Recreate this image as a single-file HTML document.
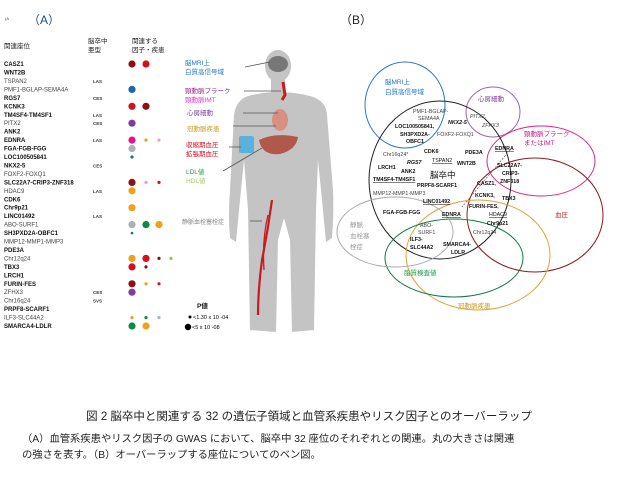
<!DOCTYPE html>
<html><head><meta charset="utf-8"><style>
html,body{margin:0;padding:0;background:#fff;}
body{width:618px;height:480px;overflow:hidden;position:relative;font-family:"Liberation Sans","Noto Sans CJK JP",sans-serif;}
svg{position:absolute;left:0;top:0;}
.cap{position:absolute;font-family:"Liberation Sans","Noto Sans CJK JP",sans-serif;color:#222;}
</style></head><body>
<svg width="618" height="400" viewBox="0 0 618 400" font-family="Liberation Sans, Noto Sans CJK JP, sans-serif">
<text x="5" y="20" font-size="4" fill="#444">(A</text>
<text x="28" y="24" font-size="12" fill="#1a4f8f">（A）</text>
<text x="340" y="24" font-size="12" fill="#222">（B）</text>
<g font-size="6.5" fill="#222">
<text x="4" y="48">関連座位</text>
<text x="88" y="43">脳卒中</text><text x="88" y="52">亜型</text>
<text x="132" y="43">関連する</text><text x="132" y="52">因子・疾患</text>
</g>
<g font-size="6" fill="#111">
<text x="4" y="66" font-weight="bold">CASZ1</text>
<text x="4" y="74.5" font-weight="bold">WNT2B</text>
<text x="4" y="83" fill="#444">TSPAN2</text>
<text x="4" y="91.4" fill="#444">PMF1-BGLAP-SEMA4A</text>
<text x="4" y="99.9" font-weight="bold">RGS7</text>
<text x="4" y="108.3" font-weight="bold">KCNK3</text>
<text x="4" y="116.8" font-weight="bold">TM4SF4-TM4SF1</text>
<text x="4" y="125.2" fill="#444">PITX2</text>
<text x="4" y="133.7" font-weight="bold">ANK2</text>
<text x="4" y="142.1" font-weight="bold">EDNRA</text>
<text x="4" y="150.6" font-weight="bold">FGA-FGB-FGG</text>
<text x="4" y="159" font-weight="bold">LOC100505841</text>
<text x="4" y="167.5" font-weight="bold">NKX2-5</text>
<text x="4" y="175.9" fill="#444">FOXF2-FOXQ1</text>
<text x="4" y="184.4" font-weight="bold">SLC22A7-CRIP3-ZNF318</text>
<text x="4" y="192.8" fill="#444">HDAC9</text>
<text x="4" y="201.3" font-weight="bold">CDK6</text>
<text x="4" y="209.7" font-weight="bold">Chr9p21</text>
<text x="4" y="218.2" font-weight="bold">LINC01492</text>
<text x="4" y="226.6" fill="#444">ABO-SURF1</text>
<text x="4" y="235.1" font-weight="bold">SH3PXD2A-OBFC1</text>
<text x="4" y="243.5" fill="#444">MMP12-MMP1-MMP3</text>
<text x="4" y="252" font-weight="bold">PDE3A</text>
<text x="4" y="260.4" fill="#444">Chr12q24</text>
<text x="4" y="268.9" font-weight="bold">TBX3</text>
<text x="4" y="277.3" font-weight="bold">LRCH1</text>
<text x="4" y="285.8" font-weight="bold">FURIN-FES</text>
<text x="4" y="294.2" fill="#444">ZFHX3</text>
<text x="4" y="302.7" fill="#444">Chr16q24</text>
<text x="4" y="311.1" font-weight="bold">PRPF8-SCARF1</text>
<text x="4" y="319.6" fill="#444">ILF3-SLC44A2</text>
<text x="4" y="328" font-weight="bold">SMARCA4-LDLR</text>
</g>
<g font-size="4.5" fill="#333" font-weight="bold">
<text x="93" y="83">LAS</text><text x="93" y="99.9">CES</text><text x="93" y="116.8">LAS</text>
<text x="93" y="125.2">CES</text><text x="93" y="142.1">LAS</text><text x="93" y="167.5">CES</text>
<text x="93" y="192.8">LAS</text><text x="93" y="218.2">LAS</text><text x="93" y="294.2">CES</text>
<text x="93" y="302.7">SVS</text>
</g>
<g>
<circle cx="132" cy="64" r="3.6" fill="#8e0f14"/><circle cx="146" cy="64" r="3.6" fill="#d3101c"/>
<circle cx="132" cy="89.4" r="3.6" fill="#1a68b2"/>
<circle cx="132" cy="106.3" r="3.6" fill="#d3101c"/><circle cx="146" cy="106.3" r="3.6" fill="#8e0f14"/>
<circle cx="132" cy="123.2" r="3.6" fill="#7d3f9c"/>
<circle cx="132" cy="140.1" r="3.6" fill="#e2158a"/><circle cx="146" cy="140.1" r="1.6" fill="#f0a01a"/><circle cx="159" cy="140.1" r="1.6" fill="#eea0bd"/>
<circle cx="132" cy="148.6" r="3.6" fill="#b0b0b0"/>
<circle cx="132" cy="157" r="1.6" fill="#1a68b2"/>
<circle cx="132" cy="182.4" r="3.6" fill="#8e0f14"/><circle cx="146" cy="182.4" r="1.6" fill="#eea0bd"/><circle cx="159" cy="182.4" r="1.6" fill="#d3101c"/>
<circle cx="132" cy="190.8" r="3.6" fill="#f0a01a"/>
<circle cx="132" cy="207.7" r="3.6" fill="#f0a01a"/>
<circle cx="132" cy="224.6" r="3.6" fill="#b0b0b0"/><circle cx="146" cy="224.6" r="3.6" fill="#0e8a47"/><circle cx="159" cy="224.6" r="3.6" fill="#f0a01a"/>
<circle cx="132" cy="233.1" r="1.3" fill="#1a68b2"/>
<circle cx="132" cy="258.4" r="3.6" fill="#f0a01a"/><circle cx="146" cy="258.4" r="3.6" fill="#d3101c"/><circle cx="159" cy="258.4" r="1.6" fill="#8e0f14"/><circle cx="171" cy="258.4" r="1.6" fill="#9bc63a"/>
<circle cx="132" cy="266.9" r="3.6" fill="#d3101c"/><circle cx="146" cy="266.9" r="1.6" fill="#8e0f14"/>
<circle cx="132" cy="283.8" r="3.6" fill="#8e0f14"/><circle cx="146" cy="283.8" r="1.6" fill="#f0a01a"/><circle cx="159" cy="283.8" r="1.6" fill="#d3101c"/>
<circle cx="132" cy="292.2" r="3.6" fill="#7d3f9c"/>
<circle cx="132" cy="317.6" r="1.6" fill="#f0a01a"/><circle cx="146" cy="317.6" r="1.6" fill="#0e8a47"/><circle cx="159" cy="317.6" r="1.6" fill="#b0b0b0"/>
<circle cx="132" cy="326" r="3.6" fill="#0e8a47"/><circle cx="146" cy="326" r="3.6" fill="#f0a01a"/>
</g>
<!-- body -->
<g fill="#c4c4c4">
<ellipse cx="278" cy="66" rx="13" ry="16"/>
<rect x="271" y="78" width="14" height="16"/>
<path d="M248 96 Q278 88 310 96 Q326 100 327 115 L333 190 Q334 215 332 238 L326 242 L322 200 L318 160 L316 210 L314 330 L292 332 L290 240 L284 218 L278 240 L276 332 L250 330 L248 210 L244 160 L240 200 L236 242 L230 238 Q228 215 230 190 L234 115 Q236 100 248 96 Z"/>
</g>
<ellipse cx="278" cy="64" rx="10" ry="8" fill="#777"/>
<path d="M283 82 L285 95 L282 100" stroke="#d01a1a" stroke-width="3" fill="none"/>
<ellipse cx="280" cy="120" rx="8" ry="11" fill="#d89080"/>
<path d="M259 140 Q275 132 298 137 Q296 150 280 154 Q262 156 259 140 Z" fill="#b0584a"/>
<rect x="239" y="136" width="15" height="17" rx="2" fill="#5bb0dc"/>
<path d="M272 200 Q268 230 262 260 Q258 290 258 315" stroke="#c81a20" stroke-width="2.2" fill="none"/>
<path d="M268 215 Q262 240 264 270" stroke="#c81a20" stroke-width="1.3" fill="none"/>
<g stroke="#555" stroke-width="0.8">
<line x1="245" y1="67" x2="270" y2="62"/><line x1="244" y1="91" x2="281" y2="91"/>
<line x1="243" y1="113" x2="278" y2="113"/><line x1="233" y1="126" x2="276" y2="126"/>
<line x1="229" y1="147" x2="241" y2="147"/><line x1="223" y1="171" x2="262" y2="148"/>
<line x1="250" y1="221" x2="262" y2="221"/>
</g>
<g font-size="6.5">
<text x="185" y="65" fill="#1f76c2">脳MRI上</text><text x="185" y="74" fill="#1f76c2">白質高信号域</text>
<text x="185" y="93" fill="#9a2a8a">頸動脈プラーク</text><text x="185" y="102" fill="#e33bd0">頸動脈IMT</text>
<text x="187" y="115" fill="#7d3f9c">心房細動</text>
<text x="187" y="131" fill="#c89c22">冠動脈疾患</text>
<text x="186" y="147" fill="#d3101c">収縮期血圧</text><text x="186" y="156" fill="#d3101c">拡張期血圧</text>
<text x="186" y="174" fill="#19a050">LDL値</text><text x="186" y="183" fill="#9bd060">HDL値</text>
<text x="182" y="224" fill="#888" font-size="6">静脈血栓塞栓症</text>
<text x="197" y="308" fill="#111" font-weight="bold">P値</text>
</g>
<circle cx="190" cy="317" r="1.5" fill="#000"/><text x="193" y="319" font-size="5.5">&lt;1.30 x 10 -04</text>
<circle cx="188" cy="327" r="3.2" fill="#000"/><text x="192" y="329" font-size="5.5">&lt;5 x 10 -08</text>
<!-- Venn -->
<g fill="none" stroke-width="1">
<ellipse cx="405" cy="105" rx="40" ry="43" stroke="#2b78c0"/>
<ellipse cx="493" cy="112" rx="27" ry="25" stroke="#9a65b5"/>
<ellipse cx="541" cy="161" rx="54" ry="35" stroke="#e0287e"/>
<ellipse cx="440" cy="180" rx="71" ry="79" stroke="#222"/>
<ellipse cx="535" cy="215" rx="68" ry="57" stroke="#8e1a22"/>
<ellipse cx="478" cy="255" rx="72" ry="55" stroke="#e5a030"/>
<ellipse cx="454" cy="258" rx="69" ry="39" stroke="#0e7a45"/>
<ellipse cx="395" cy="232" rx="58" ry="35" stroke="#aaa"/>
<line x1="510" y1="150" x2="462" y2="207" stroke="#555" stroke-dasharray="2,1.5" stroke-width="0.7"/>
</g>
<g font-size="6.5">
<text x="385" y="84" fill="#1f76c2">脳MRI上</text><text x="385" y="94" fill="#1f76c2">白質高信号域</text>
<text x="478" y="101" fill="#7d3f9c">心房細動</text>
<text x="524" y="136" fill="#c0208a">頸動脈プラーク</text><text x="524" y="145" fill="#c0208a">またはIMT</text>
<text x="555" y="217" fill="#c81a20">血圧</text>
<text x="404" y="275" fill="#19a050">脂質検査値</text>
<text x="458" y="308" fill="#c89c22">冠動脈疾患</text>
<text x="350" y="227" fill="#999">静脈</text><text x="350" y="238" fill="#999">血栓塞</text><text x="350" y="249" fill="#999">栓症</text>
<text x="430" y="178" font-size="8.5" fill="#111">脳卒中</text>
</g>
<g font-size="5.3" fill="#111">
<text x="413" y="113" fill="#444">PMF1-BGLAP-</text><text x="418" y="120" fill="#444">SEMA4A</text>
<text x="395" y="128" font-weight="bold">LOC100505841,</text>
<text x="400" y="136" font-weight="bold">SH3PXD2A-</text><text x="406" y="143" font-weight="bold">OBFC1</text>
<text x="448" y="124" font-weight="bold" font-style="italic">NKX2-5</text>
<text x="437" y="136" fill="#444">FOXF2-FOXQ1</text>
<text x="470" y="118" fill="#444" font-style="italic">PITX2,</text><text x="482" y="127" fill="#444" font-style="italic">ZFHX3</text>
<text x="495" y="150" font-weight="bold" text-decoration="underline">EDNRA</text>
<text x="383" y="156" fill="#444">Chr16q24*</text>
<text x="424" y="153" font-weight="bold">CDK6</text>
<text x="432" y="162" text-decoration="underline">TSPAN2</text>
<text x="465" y="154" font-weight="bold">PDE3A</text>
<text x="457" y="165" font-weight="bold">WNT2B</text>
<text x="407" y="164" font-weight="bold" font-style="italic">RGS7</text>
<text x="378" y="169" font-weight="bold">LRCH1</text>
<text x="401" y="173" font-weight="bold">ANK2</text>
<text x="373" y="181" font-weight="bold" text-decoration="underline">TM4SF4-TM4SF1</text>
<text x="497" y="167" font-weight="bold">SLC22A7-</text><text x="502" y="175" font-weight="bold">CRIP3-</text><text x="500" y="183" font-weight="bold">ZNF318</text>
<text x="417" y="187" font-weight="bold">PRPF8-SCARF1</text>
<text x="477" y="185" font-weight="bold">CASZ1,</text>
<text x="373" y="195" fill="#444">MMP12-MMP1-MMP3</text>
<text x="423" y="203" font-weight="bold" text-decoration="underline">LINC01492</text>
<text x="475" y="197" font-weight="bold">KCNK3,</text>
<text x="502" y="200" font-weight="bold">TBX3</text>
<text x="469" y="208" font-weight="bold">FURIN-FES,</text>
<text x="489" y="216" text-decoration="underline">HDAC9</text>
<text x="487" y="225" font-weight="bold">Chr9p21</text>
<text x="383" y="214" font-weight="bold">FGA-FGB-FGG</text>
<text x="442" y="216" font-weight="bold" text-decoration="underline">EDNRA</text>
<text x="420" y="227" fill="#444">ABO-</text><text x="418" y="234" fill="#444">SURF1</text>
<text x="410" y="241" font-weight="bold">ILF3-</text><text x="410" y="249" font-weight="bold">SLC44A2</text>
<text x="443" y="246" font-weight="bold">SMARCA4-</text><text x="451" y="254" font-weight="bold">LDLR</text>
<text x="473" y="234" fill="#444">Chr12q24</text>
</g>
</svg>
<div class="cap" style="left:0;width:618px;top:408px;text-align:center;font-size:11.5px;">図 2 脳卒中と関連する 32 の遺伝子領域と血管系疾患やリスク因子とのオーバーラップ</div>
<div class="cap" style="left:22px;top:432px;font-size:10.3px;line-height:16px;width:590px;">（A）血管系疾患やリスク因子の GWAS において、脳卒中 32 座位のそれぞれとの関連。丸の大きさは関連<br>の強さを表す。（B）オーバーラップする座位についてのベン図。</div>
</body></html>
